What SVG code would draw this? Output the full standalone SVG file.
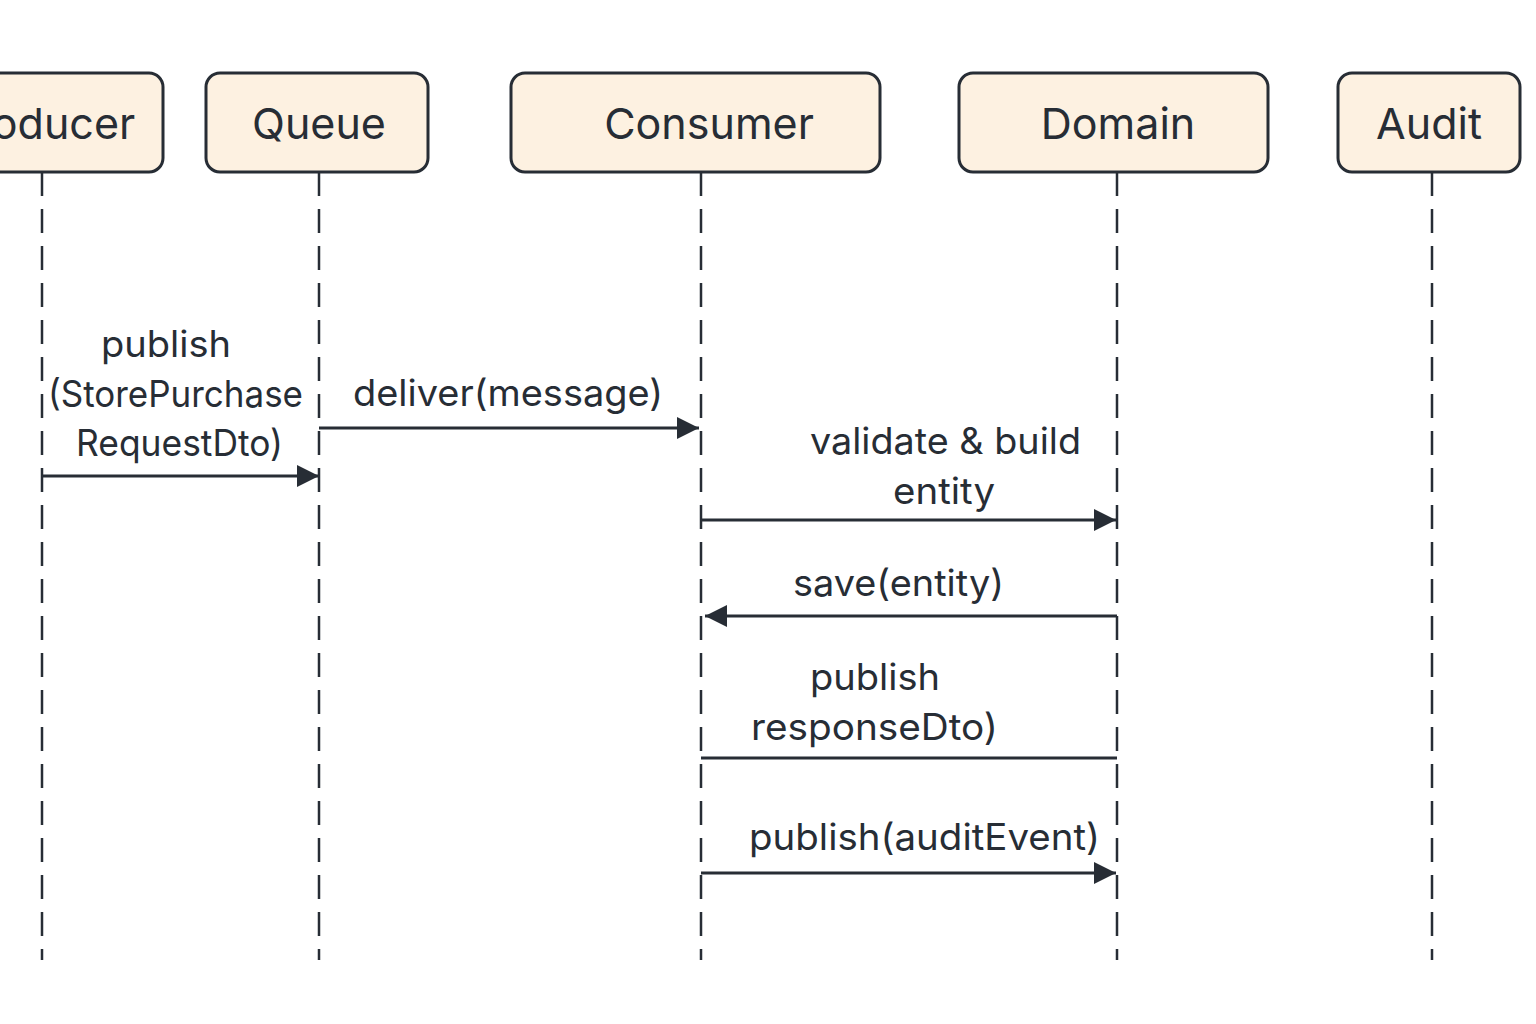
<svg xmlns="http://www.w3.org/2000/svg" width="1536" height="1024" viewBox="0 0 1536 1024">
<style>
.box{fill:#fdf1e1;stroke:#272d35;stroke-width:3}
.hdr{font-family:Inter,"Liberation Sans",sans-serif;font-size:43px;fill:#272d35;text-anchor:middle}
.lbl{font-family:Inter,"Liberation Sans",sans-serif;font-size:37px;fill:#272d35;text-anchor:middle}
.life{stroke:#272d35;stroke-width:2.5;stroke-dasharray:24 13;fill:none}
.msg{stroke:#272d35;stroke-width:3;fill:none}
</style>
<defs>
<marker id="ah" viewBox="0 0 22 22" refX="22" refY="11" markerWidth="22" markerHeight="22" markerUnits="userSpaceOnUse" orient="auto">
<path d="M0,0 L22,11 L0,22 Z" fill="#272d35"/>
</marker>
</defs>
<rect width="1536" height="1024" fill="#ffffff"/>
<g id="lifelines">
<line class="life" x1="42" y1="172" x2="42" y2="960"/>
<line class="life" x1="319" y1="172" x2="319" y2="960"/>
<line class="life" x1="701" y1="172" x2="701" y2="960"/>
<line class="life" x1="1117" y1="172" x2="1117" y2="960"/>
<line class="life" x1="1432" y1="172" x2="1432" y2="960"/>
</g>
<g id="producer">
<rect class="box" x="-47" y="73" width="210" height="99" rx="14"/>
<text class="hdr" x="42" y="139">Producer</text>
</g>
<g id="queue">
<rect class="box" x="206" y="73" width="222" height="99" rx="14"/>
<text class="hdr" x="319" y="139">Queue</text>
</g>
<g id="consumer">
<rect class="box" x="511" y="73" width="369" height="99" rx="14"/>
<text class="hdr" x="709" y="139">Consumer</text>
</g>
<g id="domain">
<rect class="box" x="959" y="73" width="309" height="99" rx="14"/>
<text class="hdr" x="1118" y="139">Domain</text>
</g>
<g id="audit">
<rect class="box" x="1338" y="73" width="182" height="99" rx="14"/>
<text class="hdr" x="1429" y="139">Audit</text>
</g>
<g id="connectors">
<line class="msg" x1="42" y1="476" x2="319" y2="476" marker-end="url(#ah)"/>
<line class="msg" x1="319" y1="428" x2="699" y2="428" marker-end="url(#ah)"/>
<line class="msg" x1="701" y1="520" x2="1116" y2="520" marker-end="url(#ah)"/>
<line class="msg" x1="1117" y1="616" x2="705" y2="616" marker-end="url(#ah)"/>
<line class="msg" x1="701" y1="758" x2="1117" y2="758"/>
<line class="msg" x1="701" y1="873" x2="1116" y2="873" marker-end="url(#ah)"/>
<text class="lbl" x="166" y="357" textLength="130" lengthAdjust="spacingAndGlyphs">publish</text>
<text class="lbl" x="175.5" y="407" textLength="255" lengthAdjust="spacingAndGlyphs">(StorePurchase</text>
<text class="lbl" x="179.5" y="456" textLength="207" lengthAdjust="spacingAndGlyphs">RequestDto)</text>
<text class="lbl" x="508" y="406" textLength="310" lengthAdjust="spacingAndGlyphs">deliver(message)</text>
<text class="lbl" x="945.5" y="454" textLength="271" lengthAdjust="spacingAndGlyphs">validate &amp; build</text>
<text class="lbl" x="944" y="504" textLength="102" lengthAdjust="spacingAndGlyphs">entity</text>
<text class="lbl" x="898.5" y="596" textLength="211" lengthAdjust="spacingAndGlyphs">save(entity)</text>
<text class="lbl" x="875" y="690" textLength="130" lengthAdjust="spacingAndGlyphs">publish</text>
<text class="lbl" x="874.5" y="740" textLength="247" lengthAdjust="spacingAndGlyphs">responseDto)</text>
<text class="lbl" x="924.5" y="850" textLength="351" lengthAdjust="spacingAndGlyphs">publish(auditEvent)</text>
</g>
</svg>
